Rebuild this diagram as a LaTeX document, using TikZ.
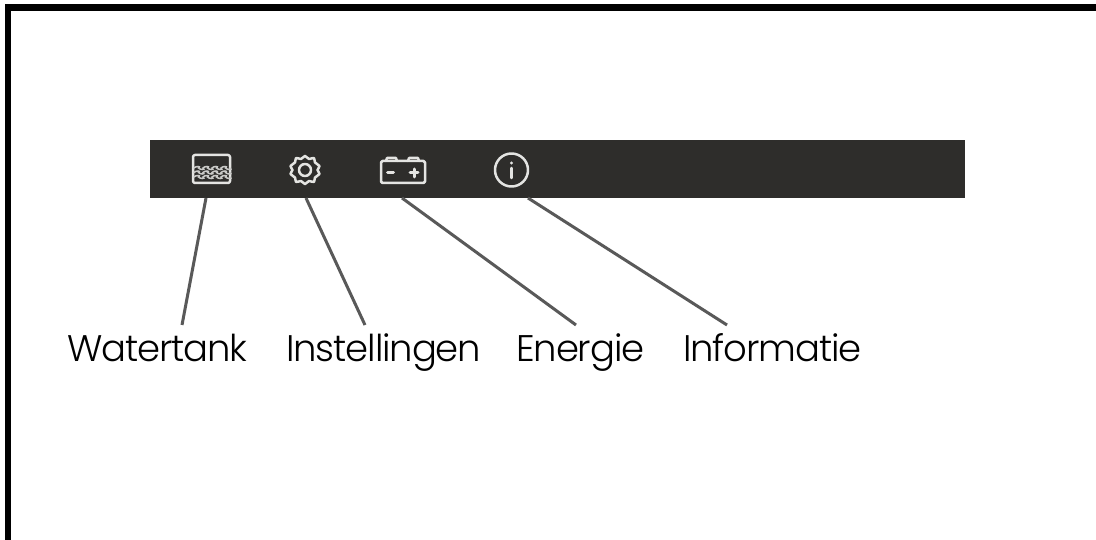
\documentclass[tikz,border=0pt]{standalone}
\usepackage{fontspec}
\setmainfont{Poppins Light}
\begin{document}
\begin{tikzpicture}[x=1pt,y=-1pt,
  frameline/.style={line width=6.5pt,black},
  barbox/.style={fill=barcol,draw=none,minimum width=815pt,minimum height=58pt,inner sep=0pt,anchor=north west},
  iconline/.style={draw=iconcol,line width=2.5pt,line cap=round,line join=round},
  iconthin/.style={draw=iconcol!85!barcol,line width=1.5pt,line cap=round},
  leader/.style={draw=leadcol,line width=3pt},
  lab/.style={font=\fontsize{37}{40}\selectfont\addfontfeatures{LetterSpace=-3},text=black,inner sep=0pt,anchor=base west}]
\definecolor{barcol}{HTML}{2E2D2B}
\definecolor{iconcol}{HTML}{E4E4E2}
\definecolor{leadcol}{HTML}{595959}
\useasboundingbox (0,0) rectangle (1096,540);
\fill[white] (0,0) rectangle (1096,540);
\draw[frameline] (8,540) -- (8,7.5) -- (1096,7.5);
\node[barbox] (bar) at (150,140) {};
% water tank icon
\draw[iconline,rounded corners=2pt] (193,155) rectangle (230,183);
\foreach \y in {168,172.5,177}{
 \draw[iconthin] (194,\y) \foreach \i in {0,1,2,3}{ .. controls ++(1.5,-2) and ++(3,-2) .. ++(4.5,0) .. controls ++(1.5,2) and ++(3,2) .. ++(4.5,0)};
}
% gear icon
\coordinate (gc) at (305,170);
\draw[iconline] plot[smooth cycle,tension=0.5] coordinates {
 (305,156) (309,159) (314,158) (315,162.5) (319.5,166) (317.5,170) (319.5,174) (315,177.5) (314,182) (309,181) (305,184) (301,181) (296,182) (295,177.5) (290.5,174) (292.5,170) (290.5,166) (295,162.5) (296,158) (301,159)};
\draw[iconline] (gc) circle (6pt);
% battery icon
\draw[iconline,rounded corners=1.5pt] (381,161) rectangle (425,183);
\draw[iconline] (386,161) -- (387,158) -- (396,158) -- (397,161);
\draw[iconline] (408,161) -- (409,158) -- (418,158) -- (419,161);
\draw[iconline,line width=3pt] (387.5,172.5) -- (393.5,172.5);
\draw[iconline,line width=3pt] (410,173) -- (418,173) (414,169) -- (414,177);
% info icon
\coordinate (ic) at (511.5,170);
\draw[iconline] (ic) circle (16.5pt);
\fill[iconcol] (511.5,163) circle (1.7pt);
\draw[iconline] (511.5,168) -- (511.5,178);
% labels
\node[lab] (w) at (67,361) {Watertank};
\node[lab] (s) at (286,361) {Instellingen};
\node[lab] (e) at (516,361) {Energie};
\node[lab] (n) at (683,361) {Informatie};
% leaders
\coordinate (wt) at (206,198);\coordinate (wb) at (182,325);
\coordinate (st) at (306,198);\coordinate (sb) at (365,325);
\coordinate (et) at (402,198);\coordinate (eb) at (576,325);
\coordinate (nt) at (528,198);\coordinate (nb) at (727,325);
\draw[leader] (wt) -- (wb);
\draw[leader] (st) -- (sb);
\draw[leader] (et) -- (eb);
\draw[leader] (nt) -- (nb);
\end{tikzpicture}
\end{document}
